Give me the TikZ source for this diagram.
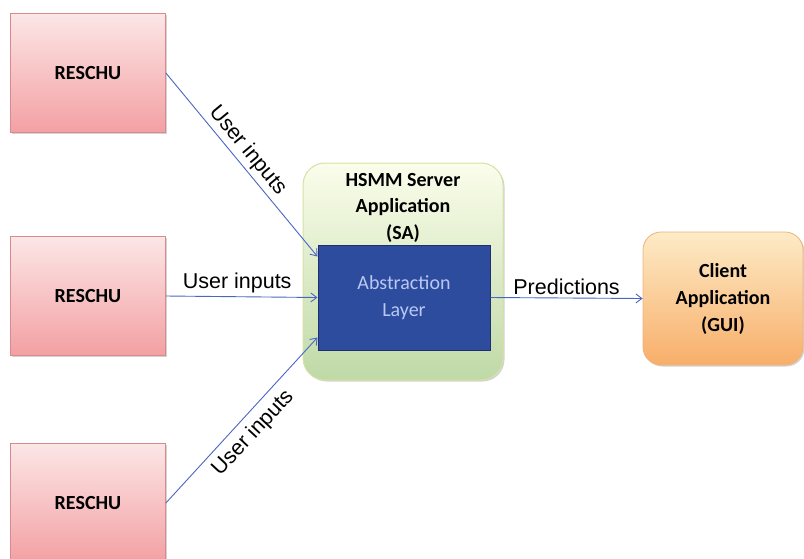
\documentclass[tikz,border=0pt]{standalone}
\usepackage{fontspec}
\setmainfont{Carlito}
\newfontfamily\labfont{Liberation Sans}
\usetikzlibrary{arrows.meta,calc,shadows}
\definecolor{arrblue}{HTML}{4A66C4}
\definecolor{pinktop}{HTML}{FCE6E6}
\definecolor{pinkbot}{HTML}{F3A0A3}
\definecolor{pinkedge}{HTML}{D98A8C}
\definecolor{greentop}{HTML}{FBFDEB}
\definecolor{greenbot}{HTML}{BFD9A6}
\definecolor{greenedge}{HTML}{D4E3A4}
\definecolor{absfill}{HTML}{2E4C9E}
\definecolor{absedge}{HTML}{1E2E6E}
\definecolor{abstext}{HTML}{B8C8F2}
\definecolor{orgtop}{HTML}{FDEBC6}
\definecolor{orgbot}{HTML}{F8AE6A}
\definecolor{orgedge}{HTML}{EFB27C}
\tikzset{
  reschu/.style={draw=pinkedge, line width=0.8pt, top color=pinktop, bottom color=pinkbot,
    minimum width=155pt, minimum height=119pt, font=\bfseries\fontsize{20}{24}\selectfont,
    drop shadow={shadow xshift=1.5pt, shadow yshift=-1.5pt, opacity=0.35}},
  server/.style={draw=greenedge, line width=1pt, top color=greentop, bottom color=greenbot,
    rounded corners=22pt, minimum width=200pt, minimum height=217pt,
    drop shadow={shadow xshift=1.5pt, shadow yshift=-1.5pt, opacity=0.35}},
  layer/.style={draw=absedge, line width=1pt, fill=absfill, text=abstext,
    minimum width=172pt, minimum height=105pt, align=center,
    font=\fontsize{20}{27}\selectfont},
  client/.style={draw=orgedge, line width=0.8pt, top color=orgtop, bottom color=orgbot,
    rounded corners=18pt, minimum width=160pt, minimum height=133pt, align=center,
    font=\bfseries\fontsize{20}{27}\selectfont,
    drop shadow={shadow xshift=1.5pt, shadow yshift=-1.5pt, opacity=0.35}},
  arr/.style={draw=arrblue, line width=0.9pt, -{Straight Barb[length=6pt,width=9pt]}},
  lab/.style={font=\labfont\fontsize{21.5}{24}\selectfont, text=black, inner sep=3pt},
}
\begin{document}
\begin{tikzpicture}[x=1pt,y=-1pt]
\useasboundingbox (0,0) rectangle (804,558);
\node[reschu] (r1) at (88,73) {RESCHU};
\node[reschu] (r2) at (88,296) {RESCHU};
\node[reschu] (r3) at (88,503) {RESCHU};
\node[server] (sa) at (403,271.5) {};
\node[align=center, font=\bfseries\fontsize{20}{26.5}\selectfont, anchor=north] (satext) at ($(sa.north)+(0,7)$) {HSMM Server\\Application\\(SA)};
\node[layer] (abs) at (404,297.5) {Abstraction\\Layer};
\node[client] (cl) at (723,298.5) {Client\\Application\\(GUI)};
\coordinate (e1) at ($(abs.west)+(0,-41)$);
\coordinate (e3) at ($(abs.west)+(0,40)$);
\draw[arr] (r1.east) -- node[lab, sloped, above, pos=0.47] {User inputs} (e1);
\draw[arr] (r2.east) -- node[lab, above, pos=0.47] {User inputs} (abs.west);
\draw[arr] (r3.east) -- (e3);
\node[lab, rotate=47] (lb3) at ($($(r3.east)!0.5!(e3)$)+(11.5,13)$) {User inputs};
\draw[arr] (abs.east) -- node[lab, above] {Predictions} (cl.west);
\end{tikzpicture}
\end{document}
